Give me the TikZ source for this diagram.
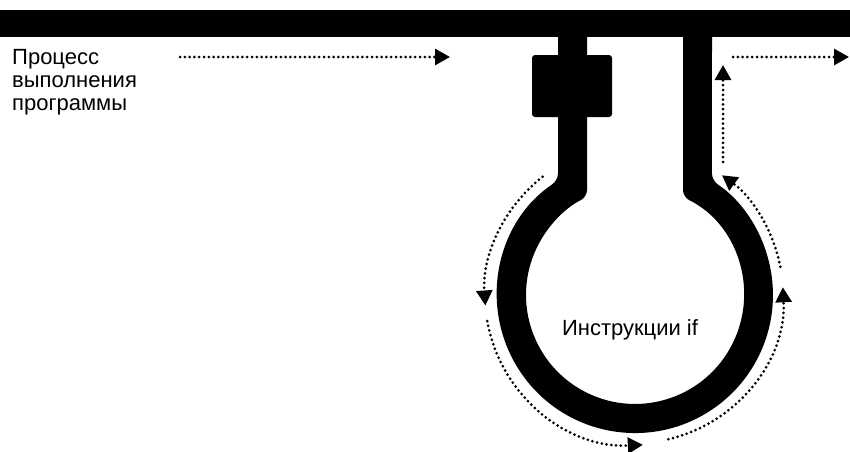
\documentclass[tikz,border=0pt]{standalone}
\usepackage{fontspec}
\setmainfont{Liberation Sans}
\usetikzlibrary{arrows.meta,calc}
\definecolor{Ink}{HTML}{000000}
\tikzset{
  pipe/.style={fill=Ink,draw=none},
  valvebox/.style={fill=Ink,draw=none,rounded corners=3pt},
  flow/.style={Ink,line width=3pt,line cap=round,dash pattern=on 0pt off 4.8pt,-{Triangle[length=15pt,width=16pt]}},
  flowlabel/.style={font=\fontsize{22}{23}\selectfont,text=Ink,inner sep=0pt}
}

\begin{document}
\begin{tikzpicture}[x=1pt,y=1pt]
  \useasboundingbox (0,0) rectangle (850,451);
  \coordinate (C) at (635,156);

  % main line and the branch that loops through the if block
  \fill[pipe] (0,414) rectangle (850,441);
  \fill[pipe,rounded corners=7pt] (558,430) -- (558,270.5)
    arc[start angle=123.9,end angle=416.1,radius=138] -- (712,430) -- (683,430)
    -- (683,253.9) arc[start angle=63.87,end angle=-243.87,radius=109] -- (587,430) -- cycle;
  \fill[valvebox] (532,334) rectangle (612,396);

  \node[flowlabel,anchor=north west,align=left] (proc) at (12,401.5) {Процесс\\выполнения\\программы};
  \node[flowlabel,anchor=base] (ifs) at (630,116) {Инструкции if};

  % flow of execution
  \coordinate (inA) at (180,394);
  \coordinate (inB) at (450,394);
  \coordinate (outA) at (733,394);
  \coordinate (outB) at (849,394);
  \coordinate (upA) at (723,289);
  \coordinate (upB) at (723,386);
  \draw[flow] (inA) -- (inB);
  \draw[flow] ($(C)+(128:150)$) arc[start angle=128,end angle=184,radius=150];
  \draw[flow] ($(C)+(190:150)$) arc[start angle=190,end angle=273,radius=150];
  \draw[flow] ($(C)+(-77:148)$) arc[start angle=-77,end angle=3,radius=148];
  \draw[flow] ($(C)+(11:148)$) arc[start angle=11,end angle=54,radius=148];
  \draw[flow] (upA) -- (upB);
  \draw[flow] (outA) -- (outB);
\end{tikzpicture}
\end{document}
